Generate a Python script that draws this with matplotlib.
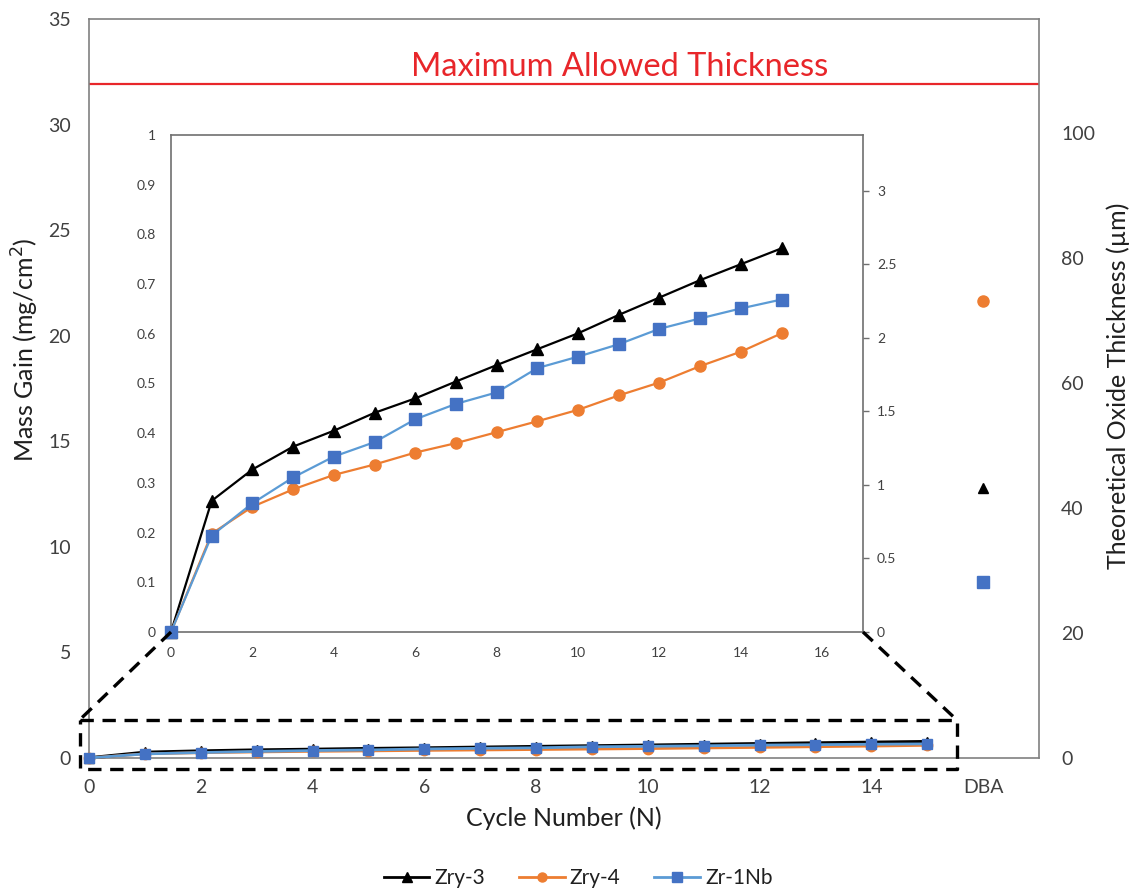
import matplotlib
matplotlib.use("Agg")
import matplotlib.pyplot as plt
from matplotlib.lines import Line2D
import numpy as np

plt.rcParams['font.family'] = ['Lato', 'DejaVu Sans']

# data (mass gain, mg/cm2)
cycles = [0, 1, 2, 3, 4, 5, 6, 7, 8, 9, 10, 11, 12, 13, 14, 15]
zry3 = [0, 0.264, 0.327, 0.373, 0.405, 0.441, 0.470, 0.504, 0.537, 0.569, 0.601, 0.638, 0.673, 0.708, 0.740, 0.772]
zry4 = [0, 0.198, 0.252, 0.287, 0.316, 0.337, 0.361, 0.380, 0.402, 0.424, 0.447, 0.476, 0.502, 0.535, 0.564, 0.601]
zr1nb = [0, 0.194, 0.259, 0.311, 0.353, 0.382, 0.428, 0.459, 0.482, 0.531, 0.554, 0.579, 0.610, 0.631, 0.651, 0.669]

# DBA values, theoretical oxide thickness (um)
dba_x = 16
dba_zry3 = 43.2
dba_zry4 = 73.2
dba_zr1nb = 28.1

max_allowed = 31.9   # mg/cm2
um_per_mg = 3.38

xticks_main = [0, 2, 4, 6, 8, 10, 12, 14, 16]
xlabels_main = ["0", "2", "4", "6", "8", "10", "12", "14", "DBA"]

tick_col = "#404040"
spine_col = "#808080"
label_col = "#1f1f1f"

styles = [
    dict(label="Zry-3", color="black", mfc="black", mec="black", marker="^"),
    dict(label="Zry-4", color="#ED7D31", mfc="#ED7D31", mec="#ED7D31", marker="o"),
    dict(label="Zr-1Nb", color="#5B9BD5", mfc="#4472C4", mec="#4472C4", marker="s"),
]
series = [zry3, zry4, zr1nb]

fig = plt.figure(figsize=(11.33, 8.91), dpi=100)
W, H = 1133, 891

# main axes
ax = fig.add_axes([89 / W, 1 - 758 / H, (1039 - 89) / W, (758 - 19) / H])
ax.set_xlim(0, 17)
ax.set_ylim(0, 35)
ax.set_yticks(range(0, 36, 5))
ax.set_xticks(xticks_main)
ax.set_xticklabels(xlabels_main)
for sp in ax.spines.values():
    sp.set_color(spine_col)
    sp.set_linewidth(1.2)
ax.tick_params(length=0, labelsize=14, colors=tick_col, pad=13)
ax.tick_params(axis="x", pad=15)

for s, st in zip(series, styles):
    lw = 2.5 if st["label"] == "Zry-3" else 2
    ax.plot(cycles, s, color=st["color"], marker=st["marker"], mfc=st["mfc"], mec=st["mec"],
            ms=7.5, lw=lw, zorder=3, clip_on=False)

ax.axhline(max_allowed, color="#E8262A", lw=1.6)
ax.text(9.5, max_allowed + 0.1, "Maximum Allowed Thickness", color="#E8262A",
        fontsize=23.5, ha="center", va="bottom")

ax2 = ax.twinx()
ax2.set_ylim(0, 35 * um_per_mg)
ax2.set_yticks(range(0, 101, 20))
ax2.tick_params(length=0, labelsize=14, colors=tick_col, pad=16)
for sp in ax2.spines.values():
    sp.set_visible(False)
ax2.plot([dba_x], [dba_zry3], "^", color="black", ms=7.5)
ax2.plot([dba_x], [dba_zry4], "o", color="#ED7D31", ms=8)
ax2.plot([dba_x], [dba_zr1nb], "s", color="#4472C4", ms=8)

fig.text(25 / W, 1 - 350 / H, "Mass Gain (mg/cm$^2$)", rotation=90, fontsize=18,
         color=label_col, ha="center", va="center")
fig.text(1118 / W, 1 - 386 / H, "Theoretical Oxide Thickness (µm)", rotation=90,
         fontsize=18, color=label_col, ha="center", va="center")
fig.text(564 / W, 1 - 818 / H, "Cycle Number (N)", fontsize=18, color=label_col,
         ha="center", va="center")

# inset
axin = fig.add_axes([171 / W, 1 - 632 / H, (863 - 171) / W, (632 - 135) / H])
axin.set_xlim(0, 17)
axin.set_ylim(0, 1)
axin.set_xticks(range(0, 17, 2))
axin.set_yticks(np.round(np.arange(0, 1.01, 0.1), 1))
axin.set_yticklabels(["0"] + ["%.1f" % v for v in np.arange(0.1, 0.95, 0.1)] + ["1"])
for sp in axin.spines.values():
    sp.set_color("#6f6f6f")
    sp.set_linewidth(1.2)
axin.tick_params(length=0, labelsize=10, colors=tick_col, pad=11)
handles = []
for s, st in zip(series, styles):
    axin.plot(cycles, s, color=st["color"], marker=st["marker"], mfc=st["mfc"], mec=st["mec"],
              ms=8, lw=1.6, zorder=3, clip_on=False)
    handles.append(Line2D([], [], color=st["color"], marker=st["marker"], mfc=st["mfc"],
                          mec=st["mec"], ms=6.5, lw=2, label=st["label"]))

axin2 = axin.twinx()
axin2.set_ylim(0, um_per_mg)
axin2.set_yticks([0, 0.5, 1, 1.5, 2, 2.5, 3])
axin2.set_yticklabels(["0", "0.5", "1", "1.5", "2", "2.5", "3"])
axin2.tick_params(length=4, width=1, color="#6f6f6f", labelsize=10, colors=tick_col, pad=6)
axin2.tick_params(axis="y", color="#6f6f6f")
for sp in axin2.spines.values():
    sp.set_visible(False)

# zoom box and connector lines
fig.canvas.draw()
to_fig = fig.transFigure.inverted()
bl = to_fig.transform(axin.transAxes.transform((0, 0)))
br = to_fig.transform(axin.transAxes.transform((1, 0)))
box = [(-0.17, 1.8), (15.53, 1.8), (15.53, -0.52), (-0.17, -0.52)]
box_f = [to_fig.transform(ax.transData.transform(p)) for p in box]
dash_kw = dict(color="black", lw=2.4, linestyle=(0, (4, 2.6)), transform=fig.transFigure, zorder=5)
fig.add_artist(Line2D([bl[0], box_f[0][0]], [bl[1], box_f[0][1]], **dash_kw))
fig.add_artist(Line2D([br[0], box_f[1][0]], [br[1], box_f[1][1]], **dash_kw))
xs = [p[0] for p in box_f] + [box_f[0][0]]
ys = [p[1] for p in box_f] + [box_f[0][1]]
fig.add_artist(Line2D(xs, ys, **dash_kw))

leg = fig.legend(handles=handles, loc="center", ncol=3, frameon=False,
                 bbox_to_anchor=(578 / W, 1 - 878 / H), fontsize=15, handlelength=2.2,
                 columnspacing=1.6, handletextpad=0.25, borderpad=0)
for t in leg.get_texts():
    t.set_color(label_col)

fig.savefig("out.png", dpi=100)
